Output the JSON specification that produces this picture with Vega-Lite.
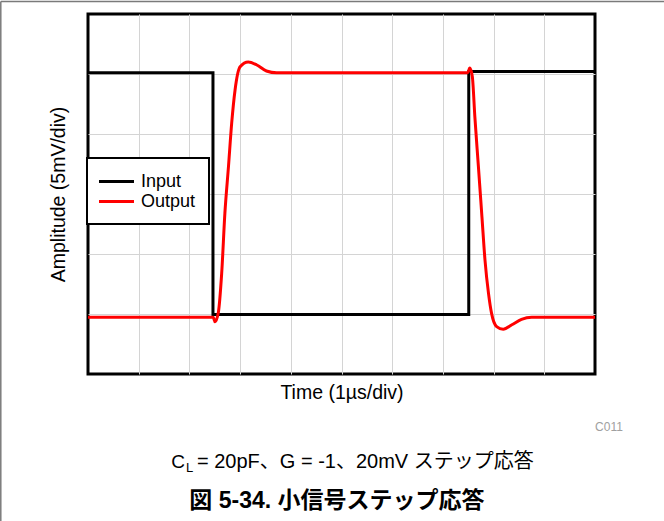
{
  "$schema": "https://vega.github.io/schema/vega-lite/v6.json",
  "width": 507,
  "height": 360,
  "autosize": {"type": "none"},
  "padding": {"left": 88, "top": 14, "right": 69, "bottom": 147},
  "background": "white",
  "config": {
    "font": "Liberation Sans, Noto Sans CJK JP",
    "view": {"stroke": "black", "strokeWidth": 3},
    "axis": {"grid": true, "gridColor": "#d4d4d4", "gridWidth": 1, "labels": false, "ticks": false, "domain": false, "titleFont": "Liberation Sans", "titleFontSize": 19.5, "titleFontWeight": "normal", "titleColor": "black"},
    "legend": {
      "orient": "none", "legendX": -1, "legendY": 144,
      "fillColor": "white", "strokeColor": "black",
      "padding": 13,
      "symbolType": "M-2,0H2",
      "symbolSize": 306,
      "symbolStrokeWidth": 3,
      "symbolOffset": 6,
      "labelFontSize": 18, "labelFont": "Liberation Sans", "labelColor": "black",
      "labelOffset": 14,
      "rowPadding": 0
    }
  },
  "layer": [
    {
      "data": {"values": [
        {"t1": -1.72, "t2": 11.6, "a1": 6.21, "a2": 6.21},
        {"t1": -1.72, "t2": -1.72, "a1": 6.21, "a2": -2.6}
      ]},
      "mark": {"type": "rule", "color": "#7a7a7a", "strokeWidth": 1.5},
      "encoding": {
        "x": {"field": "t1", "type": "quantitative", "scale": {"domain": [0, 10], "nice": false, "zero": false}},
        "x2": {"field": "t2"},
        "y": {"field": "a1", "type": "quantitative", "scale": {"domain": [0, 6], "nice": false, "zero": false}},
        "y2": {"field": "a2"}
      }
    },
    {
      "data": {"values": [
        {"t": 0, "a": 5.02, "s": "Input"},
        {"t": 2.465, "a": 5.02, "s": "Input"},
        {"t": 2.465, "a": 0.99, "s": "Input"},
        {"t": 7.51, "a": 0.99, "s": "Input"},
        {"t": 7.51, "a": 5.04, "s": "Input"},
        {"t": 10, "a": 5.04, "s": "Input"}
      ]},
      "mark": {"type": "line", "strokeWidth": 3},
      "encoding": {
        "x": {"field": "t", "type": "quantitative", "scale": {"domain": [0, 10], "nice": false, "zero": false}, "axis": {"values": [1, 2, 3, 4, 5, 6, 7, 8, 9], "title": "Time (1µs/div)", "titlePadding": 9}},
        "y": {"field": "a", "type": "quantitative", "scale": {"domain": [0, 6], "nice": false, "zero": false}, "axis": {"values": [1, 2, 3, 4, 5], "title": "Amplitude (5mV/div)", "titlePadding": 20}},
        "color": {"field": "s", "type": "nominal", "scale": {"domain": ["Input", "Output"], "range": ["black", "red"]}, "legend": {"title": null, "encode": {"legend": {"update": {"strokeWidth": {"value": 2}}}}}}
      }
    },
    {
      "data": {"values": [
        {"t": 0, "a": 0.945, "s": "Output"},
        {"t": 2.47, "a": 0.945, "s": "Output"},
        {"t": 2.505, "a": 0.87, "s": "Output"},
        {"t": 2.57, "a": 1.02, "s": "Output"},
        {"t": 2.637, "a": 1.68, "s": "Output"},
        {"t": 2.70, "a": 2.68, "s": "Output"},
        {"t": 2.77, "a": 3.45, "s": "Output"},
        {"t": 2.834, "a": 4.18, "s": "Output"},
        {"t": 2.90, "a": 4.73, "s": "Output"},
        {"t": 3.0, "a": 5.12, "s": "Output"},
        {"t": 3.16, "a": 5.2, "s": "Output"},
        {"t": 3.33, "a": 5.15, "s": "Output"},
        {"t": 3.52, "a": 5.05, "s": "Output"},
        {"t": 3.72, "a": 5.02, "s": "Output"},
        {"t": 7.49, "a": 5.02, "s": "Output"},
        {"t": 7.53, "a": 5.10, "s": "Output"},
        {"t": 7.58, "a": 4.96, "s": "Output"},
        {"t": 7.63, "a": 4.29, "s": "Output"},
        {"t": 7.70, "a": 3.46, "s": "Output"},
        {"t": 7.77, "a": 2.62, "s": "Output"},
        {"t": 7.83, "a": 1.90, "s": "Output"},
        {"t": 7.90, "a": 1.34, "s": "Output"},
        {"t": 7.96, "a": 1.01, "s": "Output"},
        {"t": 8.06, "a": 0.79, "s": "Output"},
        {"t": 8.19, "a": 0.745, "s": "Output"},
        {"t": 8.36, "a": 0.82, "s": "Output"},
        {"t": 8.55, "a": 0.91, "s": "Output"},
        {"t": 8.75, "a": 0.945, "s": "Output"},
        {"t": 10, "a": 0.945, "s": "Output"}
      ]},
      "mark": {"type": "line", "strokeWidth": 3, "interpolate": "monotone"},
      "encoding": {
        "x": {"field": "t", "type": "quantitative", "scale": {"domain": [0, 10], "nice": false, "zero": false}},
        "y": {"field": "a", "type": "quantitative", "scale": {"domain": [0, 6], "nice": false, "zero": false}},
        "color": {"field": "s", "type": "nominal", "scale": {"domain": ["Input", "Output"], "range": ["black", "red"]}}
      }
    },
    {
      "data": {"values": [{"t": 10.55, "a": -0.88, "label": "C011"}]},
      "mark": {"type": "text", "align": "right", "baseline": "middle", "fontSize": 12, "color": "#a0a0a0", "font": "Liberation Sans"},
      "encoding": {
        "x": {"field": "t", "type": "quantitative", "scale": {"domain": [0, 10], "nice": false, "zero": false}},
        "y": {"field": "a", "type": "quantitative", "scale": {"domain": [0, 6], "nice": false, "zero": false}},
        "text": {"field": "label"}
      }
    },
    {
      "data": {"values": [{"t": 1.913, "a": -1.56, "label": "C"}]},
      "mark": {"type": "text", "align": "right", "baseline": "alphabetic", "fontSize": 19, "color": "black", "font": "Liberation Sans"},
      "encoding": {
        "x": {"field": "t", "type": "quantitative", "scale": {"domain": [0, 10], "nice": false, "zero": false}},
        "y": {"field": "a", "type": "quantitative", "scale": {"domain": [0, 6], "nice": false, "zero": false}},
        "text": {"field": "label"}
      }
    },
    {
      "data": {"values": [{"t": 1.913, "a": -1.56, "label": "L"}]},
      "mark": {"type": "text", "align": "left", "baseline": "alphabetic", "fontSize": 13, "dx": 1, "dy": 4, "color": "black", "font": "Liberation Sans"},
      "encoding": {
        "x": {"field": "t", "type": "quantitative", "scale": {"domain": [0, 10], "nice": false, "zero": false}},
        "y": {"field": "a", "type": "quantitative", "scale": {"domain": [0, 6], "nice": false, "zero": false}},
        "text": {"field": "label"}
      }
    },
    {
      "data": {"values": [{"t": 2.15, "a": -1.56, "label": "= 20pF、G = -1、20mV ステップ応答"}]},
      "mark": {"type": "text", "align": "left", "baseline": "alphabetic", "fontSize": 20, "color": "black", "font": "Liberation Sans, Noto Sans CJK JP"},
      "encoding": {
        "x": {"field": "t", "type": "quantitative", "scale": {"domain": [0, 10], "nice": false, "zero": false}},
        "y": {"field": "a", "type": "quantitative", "scale": {"domain": [0, 6], "nice": false, "zero": false}},
        "text": {"field": "label"}
      }
    },
    {
      "data": {"values": [{"t": 4.91, "a": -2.117, "label": "図 5-34. 小信号ステップ応答"}]},
      "mark": {"type": "text", "align": "center", "baseline": "middle", "fontSize": 23, "fontWeight": "bold", "color": "black", "font": "Liberation Sans, Noto Sans CJK JP"},
      "encoding": {
        "x": {"field": "t", "type": "quantitative", "scale": {"domain": [0, 10], "nice": false, "zero": false}},
        "y": {"field": "a", "type": "quantitative", "scale": {"domain": [0, 6], "nice": false, "zero": false}},
        "text": {"field": "label"}
      }
    }
  ]
}
